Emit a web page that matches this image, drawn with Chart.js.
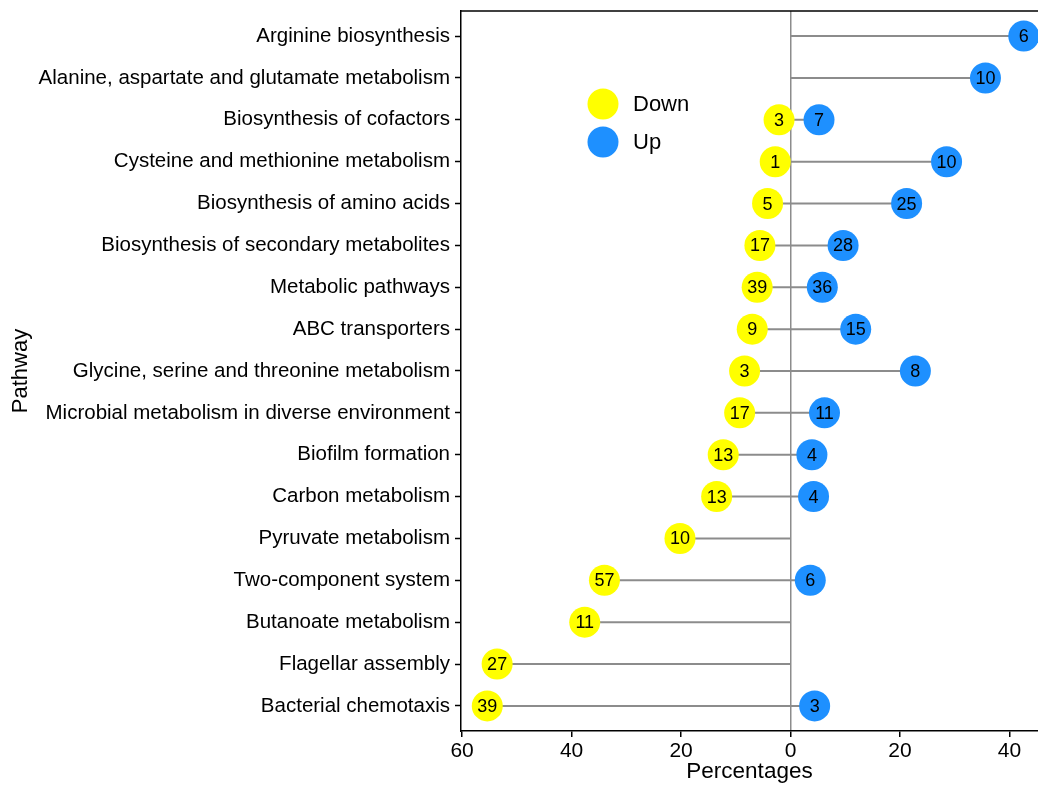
<!DOCTYPE html>
<html>
<head>
<meta charset="utf-8">
<style>
  html, body { margin: 0; padding: 0; background: #fff; }
  #wrap { width: 1038px; height: 785px; }
</style>
<script src="https://cdn.jsdelivr.net/npm/chart.js@4.4.1/dist/chart.umd.min.js"></script>
</head>
<body>
<div id="wrap"><canvas id="c" width="1038" height="785"></canvas></div>
<script>
// Pathways, top to bottom
const pathways = [
  'Arginine biosynthesis',
  'Alanine, aspartate and glutamate metabolism',
  'Biosynthesis of cofactors',
  'Cysteine and methionine metabolism',
  'Biosynthesis of amino acids',
  'Biosynthesis of secondary metabolites',
  'Metabolic pathways',
  'ABC transporters',
  'Glycine, serine and threonine metabolism',
  'Microbial metabolism in diverse environment',
  'Biofilm formation',
  'Carbon metabolism',
  'Pyruvate metabolism',
  'Two-component system',
  'Butanoate metabolism',
  'Flagellar assembly',
  'Bacterial chemotaxis'
];

// Percentage of genes in each pathway (null = none)
const downPct = [null, null, 2.1, 2.8, 4.2, 5.6, 6.1, 7.0, 8.4, 9.3, 12.3, 13.5, 20.2, 34.0, 37.6, 53.6, 55.4];
const upPct   = [42.6, 35.6, 5.2, 28.5, 21.2, 9.6, 5.8, 11.9, 22.8, 6.2, 3.9, 4.2, null, 3.6, null, null, 4.4];

// Gene counts shown inside the circles
const downCount = [null, null, 3, 1, 5, 17, 39, 9, 3, 17, 13, 13, 10, 57, 11, 27, 39];
const upCount   = [6, 10, 7, 10, 25, 28, 36, 15, 8, 11, 4, 4, null, 6, null, null, 3];

// Axis tick values (down side is plotted to the left of zero)
const xTickValues = [-60, -40, -20, 0, 20, 40];

const FONT = '"Liberation Sans", Arial, Helvetica, sans-serif';
const YELLOW = '#FFFF00';
const BLUE = '#1E90FF';
const GREY = '#8c8c8c';

const downPoints = downPct.map((v, i) => v == null ? null : { x: -v, y: i, n: downCount[i] }).filter(Boolean);
const upPoints = upPct.map((v, i) => v == null ? null : { x: v, y: i, n: upCount[i] }).filter(Boolean);

// Stems from the down point (or zero) to the up point (or zero)
const stemPlugin = {
  id: 'stems',
  beforeDatasetsDraw(chart) {
    const { ctx, scales: { x, y }, chartArea } = chart;
    ctx.save();
    // frame line along the top of the panel
    ctx.strokeStyle = '#000';
    ctx.lineWidth = 1.5;
    ctx.beginPath();
    ctx.moveTo(chartArea.left - 0.75, chartArea.top);
    ctx.lineTo(chartArea.right + 2, chartArea.top);
    ctx.stroke();

    ctx.strokeStyle = GREY;
    ctx.lineWidth = 2;
    pathways.forEach((_, i) => {
      const lo = Math.min(downPct[i] == null ? 0 : -downPct[i], 0);
      const hi = Math.max(upPct[i] == null ? 0 : upPct[i], 0);
      const py = y.getPixelForValue(i);
      ctx.beginPath();
      ctx.moveTo(x.getPixelForValue(lo), py);
      ctx.lineTo(x.getPixelForValue(hi), py);
      ctx.stroke();
    });
    ctx.restore();
  }
};

// Count labels inside circles, plus the legend
const labelPlugin = {
  id: 'counts',
  afterDatasetsDraw(chart) {
    const { ctx } = chart;
    ctx.save();
    ctx.fillStyle = '#000';
    ctx.font = '18px ' + FONT;
    ctx.textAlign = 'center';
    ctx.textBaseline = 'middle';
    chart.data.datasets.forEach((ds, di) => {
      const meta = chart.getDatasetMeta(di);
      meta.data.forEach((pt, i) => {
        ctx.fillText(String(ds.data[i].n), pt.x, pt.y + 1);
      });
    });

    // legend
    const items = [
      { label: 'Down', color: YELLOW, y: 104 },
      { label: 'Up', color: BLUE, y: 142 }
    ];
    ctx.textAlign = 'left';
    ctx.font = '22px ' + FONT;
    items.forEach(it => {
      ctx.fillStyle = it.color;
      ctx.beginPath();
      ctx.arc(603, it.y, 15.5, 0, Math.PI * 2);
      ctx.fill();
      ctx.fillStyle = '#000';
      ctx.fillText(it.label, 633, it.y + 1);
    });
    ctx.restore();
  }
};

new Chart(document.getElementById('c'), {
  type: 'scatter',
  data: {
    datasets: [
      {
        label: 'Down',
        data: downPoints,
        backgroundColor: YELLOW,
        borderWidth: 0,
        pointRadius: 15.5,
        pointHoverRadius: 15.5,
        clip: false
      },
      {
        label: 'Up',
        data: upPoints,
        backgroundColor: BLUE,
        borderWidth: 0,
        pointRadius: 15.5,
        pointHoverRadius: 15.5,
        clip: false
      }
    ]
  },
  options: {
    responsive: false,
    animation: false,
    events: [],
    layout: { autoPadding: false, padding: { top: 11, right: 0, bottom: 0, left: 0 } },
    plugins: {
      legend: { display: false },
      tooltip: { enabled: false }
    },
    scales: {
      x: {
        type: 'linear',
        min: -60.2,
        max: 45.2,
        afterBuildTicks: s => { s.ticks = xTickValues.map(v => ({ value: v })); },
        afterFit: s => { s.height = 54; s.paddingLeft = 0; s.paddingRight = 0; },
        border: { color: '#000', width: 1.5 },
        grid: {
          color: c => (c.tick && c.tick.value === 0) ? GREY : 'rgba(0,0,0,0)',
          lineWidth: 1.5,
          tickColor: '#000',
          tickLength: 6,
          tickWidth: 1.5
        },
        ticks: {
          color: '#000',
          font: { family: FONT, size: 21 },
          padding: 2,
          maxRotation: 0,
          callback: v => String(Math.abs(v))
        },
        title: {
          display: true,
          text: 'Percentages',
          color: '#000',
          font: { family: FONT, size: 22.5 },
          padding: { top: 0, bottom: 0 }
        }
      },
      y: {
        type: 'linear',
        reverse: true,
        min: -0.6,
        max: 16.6,
        afterBuildTicks: s => { s.ticks = pathways.map((_, i) => ({ value: i })); },
        afterFit: s => { s.width = 461; s.paddingTop = 0; s.paddingBottom = 0; },
        border: { color: '#000', width: 1.5 },
        grid: {
          color: 'rgba(0,0,0,0)',
          tickColor: '#000',
          tickLength: 6,
          tickWidth: 1.5
        },
        ticks: {
          color: '#000',
          autoSkip: false,
          font: { family: FONT, size: 20.5 },
          padding: 5,
          callback: v => pathways[v]
        },
        title: {
          display: true,
          text: 'Pathway',
          color: '#000',
          font: { family: FONT, size: 22 },
          padding: { top: 8, bottom: 0 }
        }
      }
    }
  },
  plugins: [stemPlugin, labelPlugin]
});
</script>
</body>
</html>
